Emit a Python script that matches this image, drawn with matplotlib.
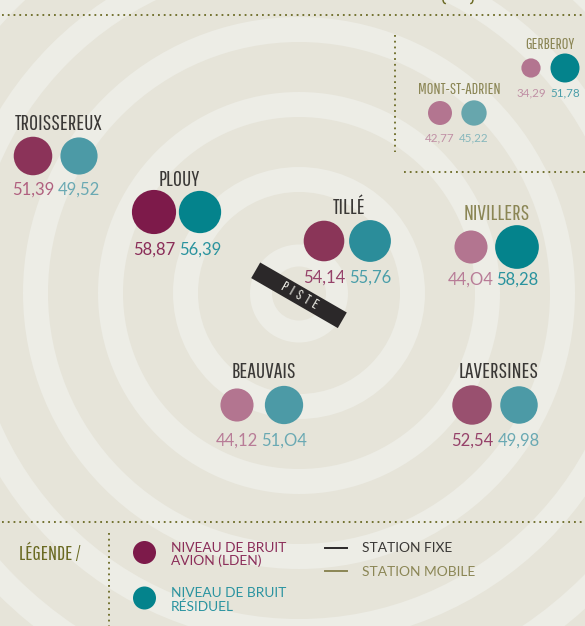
import matplotlib
matplotlib.use("Agg")
import matplotlib.pyplot as plt
from matplotlib.patches import Circle, Rectangle
from matplotlib import transforms

stations = ["TROISSEREUX", "PLOUY", "TILLÉ", "NIVILLERS", "BEAUVAIS", "LAVERSINES", "MONT-ST-ADRIEN", "GERBEROY"]
avion = [51.39, 58.87, 54.14, 44.04, 44.12, 52.54, 42.77, 34.29]
residuel = [49.52, 56.39, 55.76, 58.28, 51.04, 49.98, 45.22, 51.78]
avion_labels = ["51,39", "58,87", "54,14", "44,O4", "44,12", "52,54", "42,77", "34,29"]
residuel_labels = ["49,52", "56,39", "55,76", "58,28", "51,O4", "49,98", "45,22", "51,78"]
mobile = [False, False, False, True, False, False, True, True]

# position des stations sur la carte (pixels)
avion_x = [33, 154, 324, 471, 237, 472, 440, 531]
residuel_x = [79, 200, 370, 517, 284, 519, 474, 565]
circle_y = [156, 212, 241, 247, 405, 405, 113, 68]
title_x = [59, 179, 349, 496.5, 263.5, 498.5, 459, 550]
title_y = [123.5, 179.5, 208.5, 214.5, 372, 371.5, 89.5, 44.5]
value_y = [190, 250, 278, 280, 440.5, 440.5, 137.5, 92.5]

BG = "#e6e4d9"
RING = "#edede6"
DARK = "#3a3836"
OLIVE = "#8b8655"
DOTS = "#6b6a24"

avion_col = ["#8b3359", "#7d1a4a", "#8a3558", "#b37590", "#b37590", "#99506f", "#b37590", "#b37590"]
residuel_col = ["#4c9aa6", "#04838c", "#2b8d9a", "#04838c", "#4c9aa6", "#4c9aa6", "#67a6ad", "#04838c"]
avion_txt = ["#b0607f", "#8b2d59", "#96426a", "#b87c97", "#b87c97", "#96426a", "#c090a5", "#c090a5"]
residuel_txt = ["#6aa9b3", "#2a939e", "#4a9ea9", "#2a939e", "#6aa9b3", "#6aa9b3", "#86b7bc", "#4a9ea9"]

NARROW = ["Pathway Gothic One", "Oswald", "DejaVu Sans"]
BODY = "Lato"

fig = plt.figure(figsize=(5.85, 6.26), dpi=100, facecolor=BG)
ax = fig.add_axes([0, 0, 1, 1])
ax.set_xlim(0, 585)
ax.set_ylim(626, 0)
ax.axis("off")

# anneaux concentriques autour de la piste
for r in [476, 401, 326, 251, 176, 101]:
    ax.add_patch(Circle((299, 293), r + 25, fc=RING, ec="none", zorder=1))
    ax.add_patch(Circle((299, 293), r, fc=BG, ec="none", zorder=1))
ax.add_patch(Circle((299, 293.5), 49, fc=RING, ec="none", zorder=1))
ax.add_patch(Circle((299, 293.5), 27, fc=BG, ec="none", zorder=1))

# lignes pointillees
def dotted(x, y):
    ax.plot(x, y, color=DOTS, lw=1.3, ls=(0, (1, 2.2)), zorder=2)

dotted([2, 585], [15, 15])
dotted([404, 585], [171.5, 171.5])
dotted([394.5, 394.5], [35, 152])
dotted([2, 585], [522, 522])
dotted([109, 109], [533, 626])

# bas du titre coupe par le haut de l'image
ax.text(443, -4, "(", color=DOTS, fontsize=15, family=NARROW, fontweight="bold", ha="center", va="center", zorder=3)
ax.text(473, -4, ")", color=DOTS, fontsize=15, family=NARROW, fontweight="bold", ha="center", va="center", zorder=3)

for i, name in enumerate(stations):
    small = i >= 6
    scale = 0.28 if small else 0.375
    ax.add_patch(Circle((avion_x[i], circle_y[i]), avion[i] * scale, fc=avion_col[i], ec="none", zorder=3))
    ax.add_patch(Circle((residuel_x[i], circle_y[i]), residuel[i] * scale, fc=residuel_col[i], ec="none", zorder=3))

    size = 11.7 if small else 15.8
    ax.text(title_x[i], title_y[i], name, color=OLIVE if mobile[i] else DARK, fontsize=size, family=NARROW,
            ha="center", va="center", zorder=4)

    val_size = 8.4 if small else 12
    ax.text(avion_x[i], value_y[i], avion_labels[i], color=avion_txt[i], fontsize=val_size, family=BODY,
            ha="center", va="center", zorder=4)
    ax.text(residuel_x[i], value_y[i], residuel_labels[i], color=residuel_txt[i], fontsize=val_size, family=BODY,
            ha="center", va="center", zorder=4)

# piste
rot = transforms.Affine2D().rotate_deg_around(299, 295.3, 30) + ax.transData
ax.add_patch(Rectangle((249, 286.3), 100, 18, fc="#2b2829", ec="none", transform=rot, zorder=5))
ax.text(299, 295.3, "P  I  S  T  E", color=RING, fontsize=10.5, family=NARROW,
        rotation=-30, rotation_mode="anchor", ha="center", va="center", zorder=6)

# legende
ax.text(19, 554, "LÉGENDE /", color="#6a6a22", fontsize=14.5, family=NARROW, ha="left", va="center")
ax.add_patch(Circle((144.5, 552.5), 11.5, fc="#7d1a4a", ec="none", zorder=3))
ax.add_patch(Circle((144.5, 598), 11.5, fc="#04838c", ec="none", zorder=3))
ax.text(171, 554.5, "NIVEAU DE BRUIT\nAVION (LDEN)", color="#8b2d59", fontsize=9.9, family=BODY, ha="left", va="center", linespacing=1.05)
ax.text(171, 600, "NIVEAU DE BRUIT\nRÉSIDUEL", color="#2a93a0", fontsize=9.9, family=BODY, ha="left", va="center", linespacing=1.05)
ax.plot([325, 347], [548, 548], color="#2b2829", lw=1.4)
ax.plot([325, 347], [571, 571], color=OLIVE, lw=1.4)
ax.text(362, 547.5, "STATION FIXE", color=DARK, fontsize=9.9, family=BODY, ha="left", va="center")
ax.text(362, 571.5, "STATION MOBILE", color=OLIVE, fontsize=9.9, family=BODY, ha="left", va="center")

fig.savefig("out.png", dpi=100, facecolor=BG)
